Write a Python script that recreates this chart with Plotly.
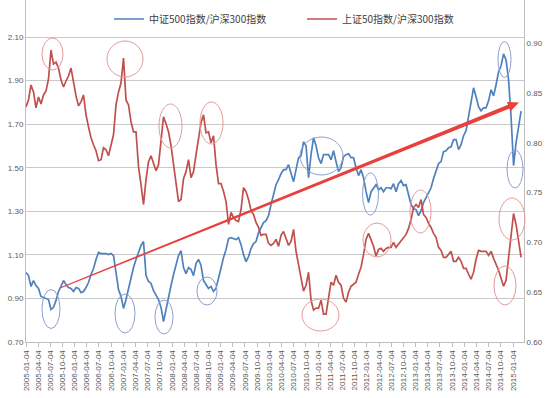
import plotly.graph_objects as go
import pandas as pd
import math

# ---------------- data ----------------
dates = pd.date_range("2005-01-04", "2015-03-05", periods=199)

csi500_hs300 = [
    1.019, 1.005, 0.955, 0.982, 0.959, 0.946, 0.909, 0.904, 0.900, 0.895,
    0.849, 0.859, 0.891, 0.932, 0.955, 0.982, 0.964, 0.950, 0.946, 0.932,
    0.950, 0.946, 0.927, 0.932, 0.950, 0.973, 1.010, 1.037, 1.079, 1.111,
    1.106, 1.106, 1.106, 1.101, 1.106, 1.097, 1.010, 0.941, 0.909, 0.854,
    0.895, 0.946, 0.991, 1.042, 1.079, 1.115, 1.143, 1.161, 1.005, 0.978,
    0.969, 0.936, 0.918, 0.895, 0.859, 0.794, 0.849, 0.909, 0.959, 1.010,
    1.051, 1.097, 1.120, 1.042, 1.014, 1.042, 1.033, 1.005, 1.060, 1.079,
    1.051, 0.982, 0.964, 0.946, 0.955, 0.932, 0.946, 0.996, 1.046, 1.088,
    1.124, 1.175, 1.179, 1.175, 1.170, 1.179, 1.147, 1.101, 1.069, 1.092,
    1.129, 1.152, 1.161, 1.202, 1.225, 1.248, 1.257, 1.280, 1.331, 1.372,
    1.422, 1.445, 1.473, 1.491, 1.491, 1.514, 1.473, 1.436, 1.491, 1.546,
    1.555, 1.619, 1.601, 1.454, 1.560, 1.638, 1.601, 1.546, 1.519, 1.560,
    1.560, 1.560, 1.537, 1.578, 1.528, 1.482, 1.500, 1.551, 1.560, 1.564,
    1.546, 1.546, 1.500, 1.464, 1.491, 1.454, 1.390, 1.340, 1.390, 1.404,
    1.422, 1.399, 1.408, 1.390, 1.408, 1.408, 1.404, 1.427, 1.390, 1.427,
    1.441, 1.418, 1.422, 1.376, 1.331, 1.312, 1.308, 1.280, 1.303, 1.340,
    1.363, 1.386, 1.408, 1.450, 1.482, 1.519, 1.528, 1.574, 1.578, 1.592,
    1.596, 1.629, 1.629, 1.583, 1.606, 1.647, 1.670, 1.734, 1.803, 1.867,
    1.826, 1.780, 1.761, 1.775, 1.775, 1.807, 1.858, 1.830, 1.881, 1.940,
    1.968, 2.023, 1.995, 1.904, 1.734, 1.510, 1.615, 1.679, 1.760,
]

sz50_hs300 = [
    0.836, 0.843, 0.858, 0.851, 0.835, 0.846, 0.839, 0.848, 0.852, 0.864,
    0.893, 0.879, 0.881, 0.875, 0.863, 0.856, 0.862, 0.867, 0.875, 0.859,
    0.847, 0.837, 0.841, 0.848, 0.828, 0.816, 0.805, 0.798, 0.792, 0.782,
    0.783, 0.795, 0.793, 0.787, 0.798, 0.808, 0.838, 0.851, 0.860, 0.885,
    0.843, 0.838, 0.821, 0.811, 0.811, 0.776, 0.758, 0.738, 0.763, 0.781,
    0.787, 0.779, 0.772, 0.778, 0.801, 0.826, 0.819, 0.811, 0.797, 0.780,
    0.763, 0.741, 0.743, 0.764, 0.771, 0.783, 0.765, 0.771, 0.788, 0.806,
    0.820, 0.828, 0.810, 0.811, 0.800, 0.807, 0.778, 0.759, 0.759, 0.751,
    0.741, 0.718, 0.730, 0.725, 0.722, 0.721, 0.733, 0.755, 0.751, 0.743,
    0.732, 0.728, 0.720, 0.715, 0.707, 0.708, 0.708, 0.699, 0.697, 0.699,
    0.703, 0.696, 0.707, 0.711, 0.703, 0.697, 0.701, 0.713, 0.691, 0.678,
    0.667, 0.651, 0.657, 0.670, 0.642, 0.632, 0.634, 0.634, 0.642, 0.628,
    0.628, 0.645, 0.660, 0.657, 0.667, 0.660, 0.657, 0.644, 0.640, 0.650,
    0.656, 0.658, 0.660, 0.668, 0.675, 0.688, 0.703, 0.709, 0.703, 0.696,
    0.686, 0.693, 0.694, 0.691, 0.694, 0.695, 0.695, 0.700, 0.695, 0.698,
    0.702, 0.705, 0.708, 0.714, 0.723, 0.735, 0.738, 0.735, 0.743, 0.728,
    0.725, 0.719, 0.715, 0.709, 0.705, 0.695, 0.692, 0.685, 0.685, 0.688,
    0.691, 0.681, 0.681, 0.685, 0.681, 0.674, 0.674, 0.668, 0.663, 0.670,
    0.683, 0.692, 0.691, 0.691, 0.691, 0.687, 0.691, 0.684, 0.678, 0.672,
    0.664, 0.656, 0.662, 0.685, 0.708, 0.729, 0.718, 0.703, 0.685,
]

tick_dates = [f"{y}-{m:02d}-04" for y in range(2005, 2016) for m in (1, 4, 7, 10)][:41]
left_ticks = [0.70, 0.90, 1.10, 1.30, 1.50, 1.70, 1.90, 2.10]
right_ticks = [0.60, 0.65, 0.70, 0.75, 0.80, 0.85, 0.90]

name_blue = "中证500指数/沪深300指数"
name_red = "上证50指数/沪深300指数"

# ---------------- geometry helpers (pixel -> paper) ----------------
W, H = 550, 398
ML, MR, MT, MB = 26, 26, 0, 56
PW, PH = W - ML - MR, H - MT - MB


def px(x):
    return (x - ML) / PW


def py(y):
    return 1 - (y - MT) / PH


BLUE = "#4f81bd"
RED = "#c0504d"
GRID = "#c9c9c9"
AXIS = "#bfbfbf"
TXT = "#595959"

fig = go.Figure()
fig.add_trace(go.Scatter(x=dates, y=csi500_hs300, name=name_blue, mode="lines",
                         line=dict(color=BLUE, width=1.7), legend="legend",
                         showlegend=True))
fig.add_trace(go.Scatter(x=dates, y=sz50_hs300, name=name_red, mode="lines",
                         yaxis="y2", line=dict(color=RED, width=1.7), legend="legend2",
                         showlegend=True))

shapes = []
# highlight ellipses (centre x, centre y, rx, ry in pixels)
red_marks = [(52.5, 54, 10.5, 16), (125, 59, 18, 18), (170.5, 126, 11.5, 22),
             (211.5, 123, 11.5, 21), (320.5, 315, 18.5, 16), (377, 240, 14, 17),
             (420.5, 211.5, 10.5, 21.5), (505, 285.5, 11, 19.5), (512, 219, 13, 21)]
blue_marks = [(51, 309, 9, 19.5), (125, 313.5, 10, 19.5), (164, 317, 9, 17),
              (207, 291, 10, 14), (321.5, 156, 21.5, 19), (370.5, 194, 8, 21),
              (504.5, 59.5, 6.5, 18), (515, 169, 8, 19)]
for marks, col in ((red_marks, "#e59a9a"), (blue_marks, "#8d9fd0")):
    for cx, cy, rx, ry in marks:
        shapes.append(dict(type="circle", xref="paper", yref="paper",
                           x0=px(cx - rx), x1=px(cx + rx), y0=py(cy + ry), y1=py(cy - ry),
                           line=dict(color=col, width=1), layer="above"))

# tapered trend arrow
sx, sy, tx, ty = 60, 288, 519, 102.5
L = math.hypot(tx - sx, ty - sy)
ux, uy = (tx - sx) / L, (ty - sy) / L
nx, ny = -uy, ux
hl = 11
ex, ey = tx - hl * ux, ty - hl * uy
pts = [(sx + 0.6 * nx, sy + 0.6 * ny), (ex + 2.1 * nx, ey + 2.1 * ny),
       (ex + 5.0 * nx, ey + 5.0 * ny), (tx, ty),
       (ex - 5.0 * nx, ey - 5.0 * ny), (ex - 2.1 * nx, ey - 2.1 * ny),
       (sx - 0.6 * nx, sy - 0.6 * ny)]
path = "M " + " L ".join(f"{px(a):.5f},{py(b):.5f}" for a, b in pts) + " Z"
shapes.append(dict(type="path", xref="paper", yref="paper", path=path,
                   fillcolor="#e8413d", line=dict(width=0), layer="above"))

legend_font = dict(family="Noto Sans CJK SC", size=10, color="#404040")

fig.update_layout(
    width=W, height=H,
    margin=dict(l=ML, r=MR, t=MT, b=MB, autoexpand=False),
    paper_bgcolor="white", plot_bgcolor="white",
    font=dict(family="Liberation Sans, Arial", size=8, color=TXT),
    showlegend=True,
    shapes=shapes,
    legend=dict(x=px(109), y=py(19), xanchor="left", yanchor="middle",
                orientation="h", font=legend_font, bgcolor="rgba(0,0,0,0)"),
    legend2=dict(x=px(302), y=py(19), xanchor="left", yanchor="middle",
                 orientation="h", font=legend_font, bgcolor="rgba(0,0,0,0)"),
    xaxis=dict(type="date", range=["2005-01-04", "2015-03-27"], automargin=False,
               tickvals=tick_dates, ticktext=tick_dates, tickangle=-90,
               tickfont=dict(size=8, color=TXT), ticks="outside", ticklen=4,
               tickcolor=AXIS, showline=True, linecolor=AXIS, showgrid=False,
               zeroline=False),
    yaxis=dict(range=[0.70, 2.27], tickvals=left_ticks, tickformat=".2f", automargin=False,
               showgrid=True, gridcolor=GRID, gridwidth=1, showline=True,
               linecolor=AXIS, zeroline=False, ticks="", tickfont=dict(size=8, color=TXT)),
    yaxis2=dict(range=[0.60, 0.9433], tickvals=right_ticks, tickformat=".2f", automargin=False,
                overlaying="y", side="right", showgrid=False, showline=True,
                linecolor=AXIS, zeroline=False, ticks="", tickfont=dict(size=8, color=TXT)),
)

fig.write_html("out.html",
               config={"displayModeBar": False},
               post_script="document.body.style.margin='0';document.body.style.padding='0';")
